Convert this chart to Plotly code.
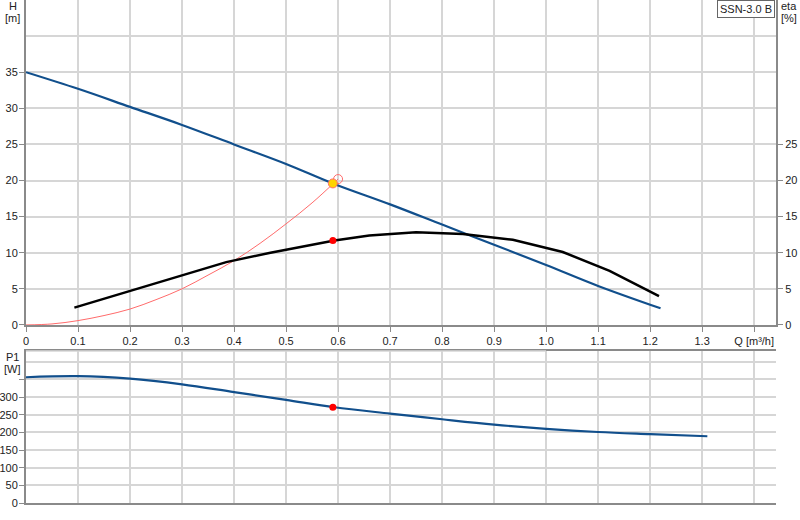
import plotly.graph_objects as go
from plotly.subplots import make_subplots

# pump curve H(Q)
q_h = [0, 0.1, 0.2, 0.3, 0.4, 0.5, 0.59, 0.7, 0.8, 0.9, 1.0, 1.1, 1.22]
h = [35.0, 32.7, 30.2, 27.7, 25.0, 22.3, 19.6, 16.7, 13.9, 11.1, 8.3, 5.4, 2.3]

# efficiency eta(Q)
q_eta = [0.093, 0.2, 0.29, 0.385, 0.47, 0.593, 0.66, 0.75, 0.84, 0.936, 1.032, 1.122, 1.217]
eta = [2.4, 4.7, 6.6, 8.7, 10.0, 11.7, 12.4, 12.85, 12.6, 11.8, 10.1, 7.5, 4.0]

# system curve
q_sys = [0, 0.05, 0.1, 0.15, 0.2, 0.25, 0.3, 0.35, 0.4, 0.45, 0.5, 0.55, 0.6]
h_sys = [0, 0.14, 0.6, 1.3, 2.2, 3.5, 5.0, 6.9, 8.9, 11.3, 14.0, 16.9, 20.2]

# power input P1(Q)
q_p1 = [0, 0.1, 0.2, 0.3, 0.4, 0.5, 0.593, 0.7, 0.8, 0.9, 1.0, 1.1, 1.2, 1.31]
p1 = [356, 359, 352, 336, 314, 292, 271, 253, 237, 222, 210, 201, 195, 189]

# duty point and requested point
q_duty = [0.59]
h_duty = [19.6]
eta_duty = [11.7]
p1_duty = [271]
q_req = [0.6]
h_req = [20.2]

x_ticks = [0, 0.1, 0.2, 0.3, 0.4, 0.5, 0.6, 0.7, 0.8, 0.9, 1.0, 1.1, 1.2, 1.3, 1.4]
x_labels = ["0", "0.1", "0.2", "0.3", "0.4", "0.5", "0.6", "0.7", "0.8", "0.9",
            "1.0", "1.1", "1.2", "1.3", "Q [m³/h]"]
h_ticks = [0, 5, 10, 15, 20, 25, 30, 35]
eta_ticks = [0, 5, 10, 15, 20, 25]
p1_ticks = [0, 50, 100, 150, 200, 250, 300, 350]
p1_labels = ["0", "50", "100", "150", "200", "250", "300", ""]

BLUE = "#114f8c"
GRID = "#d6d6d6"
AXIS = "#8a8a8a"
FONT = dict(family="Liberation Sans, Arial", size=11, color="#222222")

fig = make_subplots(rows=2, cols=1, specs=[[{"secondary_y": True}], [{}]],
                    vertical_spacing=0.0)

# system curve
fig.add_trace(go.Scatter(x=q_sys, y=h_sys, mode="lines", line=dict(color="#ff6b6b", width=1, shape="spline")),
              row=1, col=1, secondary_y=False)
# H curve
fig.add_trace(go.Scatter(x=q_h, y=h, mode="lines", line=dict(color=BLUE, width=2.2, shape="spline")),
              row=1, col=1, secondary_y=False)
# eta curve
fig.add_trace(go.Scatter(x=q_eta, y=eta, mode="lines", line=dict(color="black", width=2.5)),
              row=1, col=1, secondary_y=True)
# requested point
fig.add_trace(go.Scatter(x=q_req, y=h_req, mode="markers",
                         marker=dict(size=9, color="rgba(255,255,255,0)", line=dict(color="#ff6b6b", width=1))),
              row=1, col=1, secondary_y=False)
# duty point on H
fig.add_trace(go.Scatter(x=q_duty, y=h_duty, mode="markers",
                         marker=dict(size=9, color="#ffd400", line=dict(color="#ff6b6b", width=1))),
              row=1, col=1, secondary_y=False)
# duty point on eta
fig.add_trace(go.Scatter(x=q_duty, y=eta_duty, mode="markers", marker=dict(size=7, color="#ff0000")),
              row=1, col=1, secondary_y=True)
# P1 curve
fig.add_trace(go.Scatter(x=q_p1, y=p1, mode="lines", line=dict(color=BLUE, width=2.2, shape="spline")),
              row=2, col=1)
fig.add_trace(go.Scatter(x=q_duty, y=p1_duty, mode="markers", marker=dict(size=7, color="#ff0000")),
              row=2, col=1)

xcommon = dict(range=[0, 1.442], tickvals=x_ticks, showgrid=True, gridcolor=GRID, gridwidth=1.5,
               showline=True, linecolor=AXIS, linewidth=2, zeroline=False, tickfont=FONT,
               automargin=False, domain=[0, 1])

fig.update_xaxes(ticktext=x_labels, ticks="outside", ticklen=5, tickcolor=AXIS, row=1, col=1, **xcommon)
fig.update_xaxes(showticklabels=False, ticks="", mirror=True, row=2, col=1, **xcommon)

fig.update_yaxes(range=[0, 45], tickvals=h_ticks, ticks="outside", ticklen=5, tickcolor=AXIS,
                 showgrid=True, gridcolor=GRID, gridwidth=1.5, ticklabelstandoff=-1,
                 minor=dict(tickmode="array", tickvals=[40], showgrid=True, gridcolor=GRID, gridwidth=1.5, ticks=""),
                 showline=True, linecolor=AXIS, linewidth=2, zeroline=False, tickfont=FONT, automargin=False,
                 row=1, col=1, secondary_y=False)
fig.update_yaxes(range=[0, 45], tickvals=eta_ticks, ticks="outside", ticklen=5, tickcolor=AXIS,
                 showgrid=False, showline=True, linecolor=AXIS, linewidth=2, zeroline=False, tickfont=FONT,
                 automargin=False, row=1, col=1, secondary_y=True)
fig.update_yaxes(range=[0, 430], tickvals=p1_ticks, ticktext=p1_labels, ticks="outside", ticklen=5,
                 tickcolor=AXIS, showgrid=True, gridcolor=GRID, gridwidth=1.5, ticklabelstandoff=-1,
                 minor=dict(tickmode="array", tickvals=[400], showgrid=True, gridcolor=GRID, gridwidth=1.5, ticks=""),
                 showline=True, linecolor=AXIS, linewidth=2, zeroline=False, tickfont=FONT, automargin=False,
                 row=2, col=1)

fig.update_layout(
    width=800, height=520,
    margin=dict(l=26, r=24, t=0, b=17, autoexpand=False),
    plot_bgcolor="white", paper_bgcolor="white",
    showlegend=False,
    font=FONT,
)
fig.update_layout(
    yaxis=dict(domain=[0.354, 1.0]),
    yaxis2=dict(domain=[0.354, 1.0]),
    yaxis3=dict(domain=[0.0, 0.302]),
)

# top border of the lower panel
fig.add_shape(type="line", xref="x3 domain", yref="y3 domain", x0=0, x1=1, y0=1, y1=1,
              line=dict(color=GRID, width=1.5))

# axis unit labels, two lines set close together
unit_labels = [
    ("H", "[m]", -0.018, 1.0, "center"),
    ("eta", "[%]", 1.004, 1.0, "left"),
    ("P1", "[W]", -0.018, 0.302, "center"),
]
for name, unit, ux, uy, anchor in unit_labels:
    fig.add_annotation(text=name, xref="paper", yref="paper", x=ux, y=uy, xanchor=anchor, yanchor="top",
                       yshift=2, showarrow=False, font=FONT)
    fig.add_annotation(text=unit, xref="paper", yref="paper", x=ux, y=uy, xanchor=anchor, yanchor="top",
                       yshift=-10, showarrow=False, font=FONT)

fig.add_annotation(text="SSN-3.0 B", xref="paper", yref="paper", x=0.999, y=1.0,
                   xanchor="right", yanchor="top", showarrow=False, font=FONT,
                   bgcolor="white", bordercolor="#666666", borderwidth=1, borderpad=2)

fig.write_html("out.html", config={"displayModeBar": False},
               post_script="document.body.style.margin='0';")
